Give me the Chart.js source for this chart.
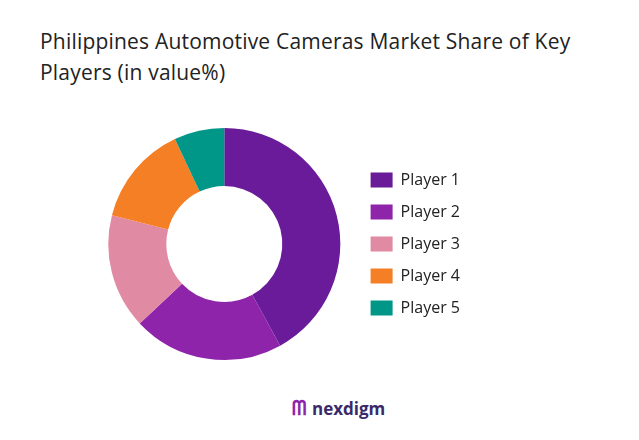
<!DOCTYPE html>
<html>
<head>
<meta charset="utf-8">
<script src="https://cdn.jsdelivr.net/npm/chart.js@4"></script>
<style>
  body { margin: 0; width: 639px; height: 440px; background: #fff; font-family: 'Open Sans', sans-serif; position: relative; overflow: hidden; }
  #title { position: absolute; left: 40px; top: 26px; font-size: 21px; line-height: 31px; color: #222; letter-spacing: 0.2px; }
  #wrap { position: absolute; left: 0; top: 124px; width: 470px; height: 240px; }
  #logo { position: absolute; left: 292px; top: 394px; font-size: 17px; font-weight: bold; color: #3a2a6a; }
  #logo span { color: #8e24aa; font-size: 20px; margin-right: 6px; }
</style>
</head>
<body>
<div id="title">Philippines Automotive Cameras Market Share of Key<br>Players (in value%)</div>
<div id="wrap"><canvas id="chart"></canvas></div>
<div id="logo"><span>ᗰ</span>nexdigm</div>
<script>
const players = ['Player 1', 'Player 2', 'Player 3', 'Player 4', 'Player 5'];
const shares = [42, 21, 16, 14, 7];
const colors = ['#6a1b9a', '#8e24aa', '#e08aa4', '#f47f24', '#009688'];

new Chart(document.getElementById('chart'), {
    type: 'doughnut',
    data: {
        labels: players,
        datasets: [{ data: shares, backgroundColor: colors, borderWidth: 0 }]
    },
    options: {
        responsive: true,
        maintainAspectRatio: false,
        animation: false,
        cutout: '50%',
        layout: { padding: { left: 94, top: 4, bottom: 4 } },
        plugins: {
            tooltip: { enabled: false },
            legend: {
                position: 'right',
                labels: {
                    color: '#222',
                    font: { family: 'Open Sans', size: 16 },
                    boxWidth: 22,
                    boxHeight: 15,
                    padding: 16
                }
            }
        }
    }
});
</script>
</body>
</html>
